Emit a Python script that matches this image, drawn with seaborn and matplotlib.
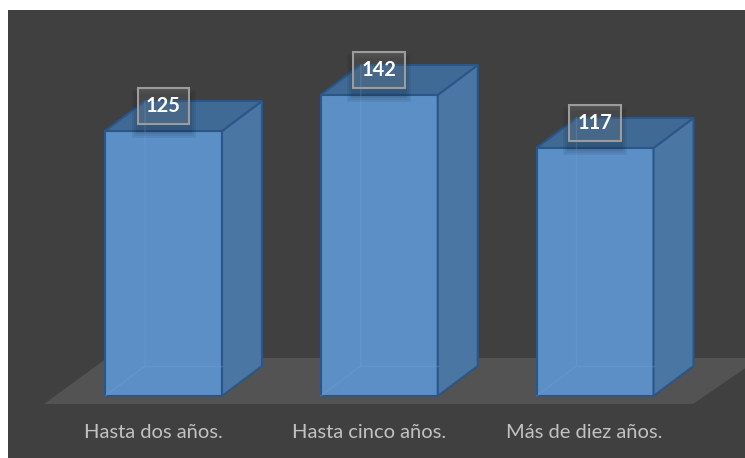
import matplotlib
matplotlib.use("Agg")
import matplotlib.pyplot as plt
from matplotlib.patches import Polygon, Rectangle
import seaborn as sns

categories = ["Hasta dos años.", "Hasta cinco años.", "Más de diez años."]
values = [125, 142, 117]

sns.set_theme(style="white")
plt.rcParams["font.family"] = ["Lato", "DejaVu Sans"]

W, H = 745, 458
fig = plt.figure(figsize=(W / 100, H / 100), dpi=100)
fig.patch.set_facecolor("white")

ax = fig.add_axes([0, 0, 1, 1])
ax.set_facecolor("none")
# dark chart area
ax.add_patch(Rectangle((8 / W, 0), 1 - 8 / W, (H - 10) / H,
                       transform=ax.transAxes, facecolor="#404040",
                       edgecolor="none", zorder=0))

# pixel geometry helpers
x0_px, step_px = 163.5, 215.75       # centre of first bar, spacing between bars
base_px, unit_px = 396, 2.12          # baseline (from top) and pixels per unit
bar_w = 117 / step_px
dx, dy = 40 / step_px, 30 / unit_px   # depth of the 3-D boxes

front = "#5b8fc6"
side = "#4a76a3"
top = "#3f6a95"
edge = "#2b5687"

sns.barplot(x=categories, y=values, width=bar_w, color=front, saturation=1,
            edgecolor=edge, linewidth=1.5, ax=ax, zorder=2)

ax.set_xlim(-x0_px / step_px, (W - x0_px) / step_px)
ax.set_ylim(-(H - base_px) / unit_px, base_px / unit_px)
ax.axis("off")

def px2data(px, py):
    return ((px - x0_px) / step_px, (base_px - py) / unit_px)

# floor
floor_pts = [px2data(44, 404), px2data(107, 358), px2data(760, 358), px2data(693, 404)]
ax.add_patch(Polygon(floor_pts, closed=True, facecolor="#545353",
                     edgecolor="none", zorder=1))

bars = [p for p in ax.patches if p.get_zorder() == 2][:len(values)]
for bar, v in zip(bars, values):
    l = bar.get_x()
    r = l + bar.get_width()
    h = bar.get_height()
    # hidden back edges seen through the front face
    ax.plot([l, l + dx, l + dx], [0, dy, h + dy], color="#7aa6d6", lw=1.0,
            alpha=0.3, zorder=2.5)
    ax.plot([l + dx, r], [dy, dy], color="#7aa6d6", lw=1.0, alpha=0.3, zorder=2.5)
    # right side face
    ax.add_patch(Polygon([(r, 0), (r + dx, dy), (r + dx, h + dy), (r, h)],
                         closed=True, facecolor=side, edgecolor=edge,
                         lw=1.5, zorder=2))
    # top face
    ax.add_patch(Polygon([(l, h), (l + dx, h + dy), (r + dx, h + dy), (r, h)],
                         closed=True, facecolor=top, edgecolor=edge,
                         lw=1.5, zorder=2))

    cx = l + bar.get_width() / 2
    ly = h + 25 / unit_px
    # soft shadow under the value label
    for k, a in enumerate([0.06, 0.06, 0.06]):
        grow = (6 - 2 * k)
        ax.add_patch(Rectangle((cx - (26 + grow) / step_px, ly - (18 + 8 + grow) / unit_px),
                               (52 + 2 * grow) / step_px, (36 + 2 * grow) / unit_px,
                               facecolor="black", alpha=a, edgecolor="none", zorder=3))
    ax.text(cx, ly, f"{v}", ha="center", va="center",
            color="white", fontsize=14.5, fontweight="bold", zorder=4,
            bbox=dict(boxstyle="square,pad=0.42", facecolor=(1, 1, 1, 0.1),
                      edgecolor="#9c9c9c", linewidth=1.5))

for i, c in enumerate(categories):
    ax.text(i - 10.5 / step_px, (base_px - 432) / unit_px, c, ha="center",
            va="center", color="#c2c2c2", fontsize=14.5, zorder=4)

fig.savefig("out.png", dpi=100)
